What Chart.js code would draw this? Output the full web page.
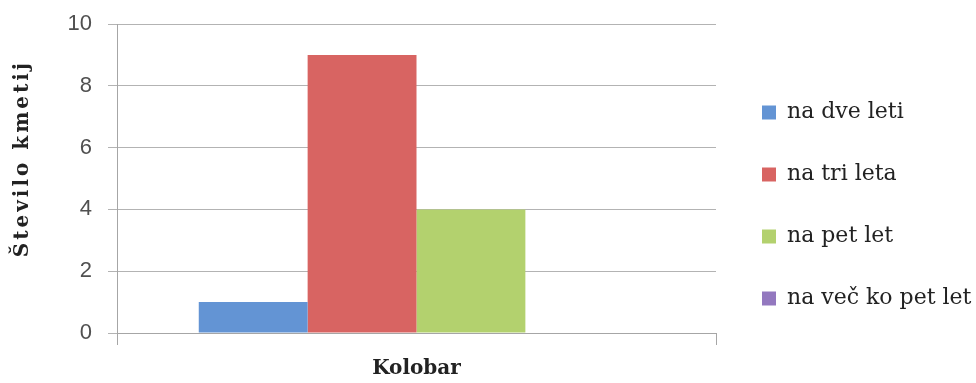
<!DOCTYPE html>
<html>
<head>
<meta charset="utf-8">
<script src="https://cdn.jsdelivr.net/npm/chart.js@4/dist/chart.umd.min.js"></script>
<style>
  html, body { margin: 0; padding: 0; background: #ffffff; }
  #wrap { width: 976px; height: 383px; }
</style>
</head>
<body>
<div id="wrap"><canvas id="c" width="976" height="383"></canvas></div>
<script>
// Število kmetij po dolžini kolobarja
const categories = ['Kolobar'];
const seriesNames = ['na dve leti', 'na tri leta', 'na pet let', 'na več ko pet let'];
const seriesValues = [[1], [9], [4], [0]];
const seriesColors = ['#6394d4', '#d86462', '#b3d16e', '#9378bf'];
const yTicks = [0, 2, 4, 6, 8, 10];

const serif = "'DejaVu Serif', 'Liberation Serif', serif";
const sans = "'Liberation Sans', 'DejaVu Sans', sans-serif";

const datasets = seriesNames.map((name, i) => ({
  label: name,
  data: seriesValues[i],
  backgroundColor: seriesColors[i],
  borderWidth: 0,
  barPercentage: 1.0,
  categoryPercentage: 0.727
}));

// fixed-width legend column on the right, items nudged a little inward
const legendColumn = {
  id: 'legendColumn',
  afterInit(chart) {
    const lg = chart.legend;
    const fit = lg.fit.bind(lg);
    lg.fit = function () { fit(); this.width = 260; };
  },
  afterLayout(chart) {
    const lg = chart.legend;
    lg.left += 6;
    lg.top += 2;
    lg.bottom += 2;
  },
  beforeDraw(chart) {
    // spaced-out lettering for the vertical axis title
    const y = chart.scales.y;
    if (y && !y._spacedTitle) {
      const drawTitle = y.drawTitle.bind(y);
      y.drawTitle = function () {
        const ctx = this.ctx;
        ctx.save();
        ctx.letterSpacing = '3px';
        drawTitle();
        ctx.restore();
      };
      y._spacedTitle = true;
    }
  }
};

new Chart(document.getElementById('c'), {
  type: 'bar',
  data: { labels: categories, datasets },
  plugins: [legendColumn],
  options: {
    responsive: false,
    animation: false,
    layout: { padding: { top: 24, left: 0, right: 0, bottom: 0 } },
    plugins: {
      tooltip: { enabled: false },
      legend: {
        position: 'right',
        align: 'center',
        labels: {
          boxWidth: 14,
          boxHeight: 14,
          padding: 40,
          color: '#222',
          font: { family: serif, size: 22 }
        }
      }
    },
    scales: {
      x: {
        offset: true,
        afterFit: (s) => { s.height = 50; },
        grid: {
          offset: true,
          drawOnChartArea: false,
          drawTicks: true,
          tickLength: 12,
          color: '#a6a6a6'
        },
        border: { color: '#a6a6a6' },
        ticks: { display: false },
        title: {
          display: true,
          text: 'Kolobar',
          color: '#222',
          font: { family: serif, size: 20, weight: 'bold' },
          padding: { top: 0, bottom: 2 }
        }
      },
      y: {
        min: 0,
        max: 10,
        afterFit: (s) => { s.width = 117; s.paddingTop = 0; s.paddingBottom = 0; },
        afterBuildTicks: (axis) => { axis.ticks = yTicks.map(v => ({ value: v })); },
        grid: { color: '#b3b3b3', tickLength: 9 },
        border: { color: '#a6a6a6' },
        ticks: {
          color: '#505050',
          padding: 16,
          font: { family: sans, size: 22 }
        },
        title: {
          display: true,
          text: '    Število kmetij',
          color: '#222',
          font: { family: serif, size: 20, weight: 'bold' },
          padding: { top: 11, bottom: 0 }
        }
      }
    }
  }
});
</script>
</body>
</html>
